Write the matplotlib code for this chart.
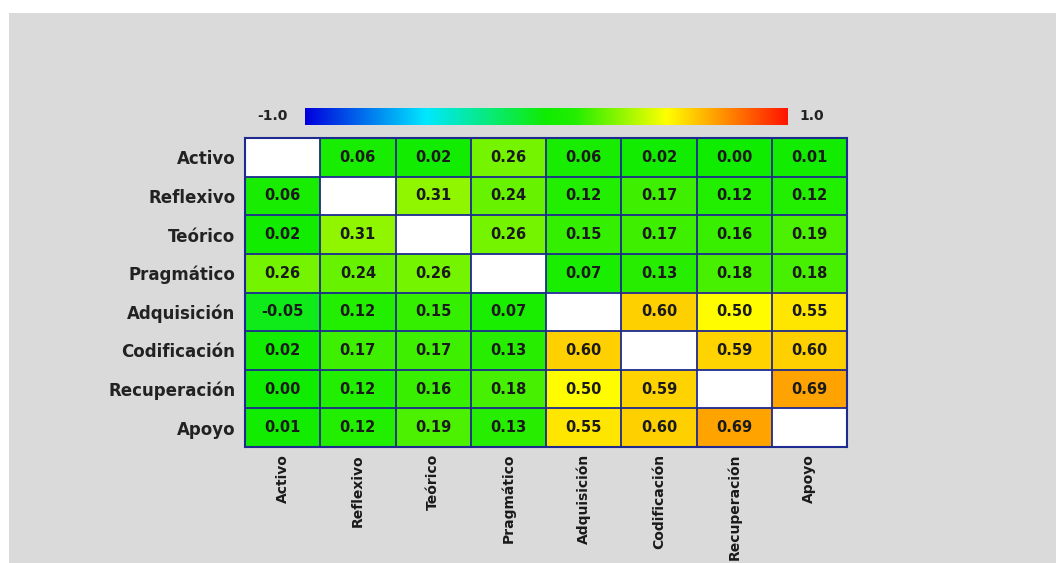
import numpy as np
import matplotlib
matplotlib.use("Agg")
import matplotlib.pyplot as plt
from matplotlib.colors import LinearSegmentedColormap
from matplotlib.patches import Rectangle

# Learning styles and learning strategies
labels = ["Activo", "Reflexivo", "Teórico", "Pragmático",
          "Adquisición", "Codificación", "Recuperación", "Apoyo"]

# correlation values per row (diagonal left empty)
activo       = [np.nan, 0.06, 0.02, 0.26, 0.06, 0.02, 0.00, 0.01]
reflexivo    = [0.06, np.nan, 0.31, 0.24, 0.12, 0.17, 0.12, 0.12]
teorico      = [0.02, 0.31, np.nan, 0.26, 0.15, 0.17, 0.16, 0.19]
pragmatico   = [0.26, 0.24, 0.26, np.nan, 0.07, 0.13, 0.18, 0.18]
adquisicion  = [-0.05, 0.12, 0.15, 0.07, np.nan, 0.60, 0.50, 0.55]
codificacion = [0.02, 0.17, 0.17, 0.13, 0.60, np.nan, 0.59, 0.60]
recuperacion = [0.00, 0.12, 0.16, 0.18, 0.50, 0.59, np.nan, 0.69]
apoyo        = [0.01, 0.12, 0.19, 0.13, 0.55, 0.60, 0.69, np.nan]

vmin, vmax = -1.0, 1.0

matrix = np.array([activo, reflexivo, teorico, pragmatico,
                   adquisicion, codificacion, recuperacion, apoyo])
n = len(labels)

cmap = LinearSegmentedColormap.from_list(
    "corr", [(0.0, "#0000dc"), (0.25, "#00e8ff"), (0.5, "#10ec00"),
             (0.56, "#22ee00"), (0.75, "#ffff00"), (1.0, "#ff1400")])
cmap.set_bad("white")

W, H = 1056, 563
fig = plt.figure(figsize=(W / 100, H / 100), dpi=100, facecolor="white")

# grey panel behind everything
fig.patches.append(Rectangle((9 / W, 0), 1, (H - 13) / H, transform=fig.transFigure,
                             facecolor="#dadada", edgecolor="none", zorder=-1))

font = "DejaVu Sans"
grid_color = "#1e2a90"

# heatmap
ax = fig.add_axes([245 / W, 1 - 447 / H, 602 / W, 309 / H])
data = np.ma.masked_invalid(matrix)
ax.imshow(data, cmap=cmap, vmin=vmin, vmax=vmax, aspect="auto",
          interpolation="nearest")
for k in range(1, n):
    ax.axhline(k - 0.5, color=grid_color, lw=1.3)
    ax.axvline(k - 0.5, color=grid_color, lw=1.3)
for s in ax.spines.values():
    s.set_color(grid_color)
    s.set_linewidth(1.5)

for i in range(n):
    for j in range(n):
        v = matrix[i, j]
        if np.isnan(v):
            continue
        ax.text(j, i, f"{v:.2f}", ha="center", va="center", fontsize=10.5,
                fontweight="bold", color="#1a1a1a", family=font)

ax.set_xticks(range(n))
ax.set_xticklabels(labels, rotation=90, fontsize=10, fontweight="bold",
                   family=font, color="#1a1a1a", va="top")
ax.set_yticks(range(n))
ax.set_yticklabels(labels, fontsize=12, fontweight="bold",
                   family=font, color="#222222")
ax.tick_params(axis="both", length=0)
ax.tick_params(axis="x", pad=5)
ax.tick_params(axis="y", pad=7)

# colour scale bar
cax = fig.add_axes([305 / W, 1 - 125 / H, 483 / W, 17 / H])
gradient = np.linspace(vmin, vmax, 256).reshape(1, -1)
cax.imshow(gradient, cmap=cmap, vmin=vmin, vmax=vmax, aspect="auto")
cax.set_axis_off()
fig.text(272 / W, 1 - 116 / H, f"{vmin:.1f}", ha="center", va="center",
         fontsize=10, fontweight="bold", family=font, color="#222222")
fig.text(812 / W, 1 - 116 / H, f"{vmax:.1f}", ha="center", va="center",
         fontsize=10, fontweight="bold", family=font, color="#222222")

fig.savefig("out.png", dpi=100, facecolor=fig.get_facecolor())
